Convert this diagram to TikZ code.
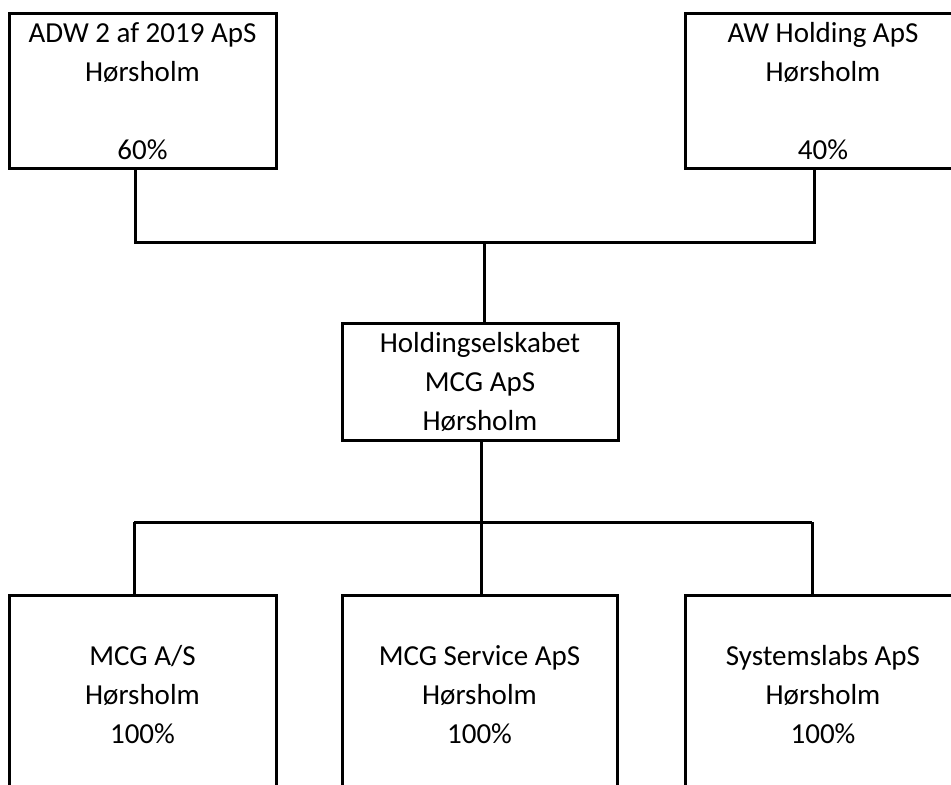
\documentclass[tikz,border=0pt]{standalone}
\usepackage{fontspec}
\setmainfont{Carlito}
\tikzstyle{every node}=[draw=black,line width=1.5pt,align=center,inner sep=0pt,font=\fontsize{14.5}{19.5}\selectfont]
\tikzstyle{owner}=[minimum width=133.5pt,minimum height=77.5pt]
\tikzstyle{holding}=[minimum width=138pt,minimum height=58pt]
\tikzstyle{company}=[minimum width=133.5pt,minimum height=100pt]
\tikzstyle{wide}=[minimum width=137.5pt]

\begin{document}
\begin{tikzpicture}[x=0.5pt,y=-0.5pt,line width=1.5pt]
	\useasboundingbox (0,0) rectangle (951,785);
	\clip (0,0) rectangle (951,785);
	% owners
	\draw (142.5,91.5) node (adw) [owner] {ADW 2 af 2019 ApS\\Hørsholm\\[19.5pt]60\%};
	\draw (823,91.5) node (aw) [owner,wide] {AW Holding ApS\\Hørsholm\\[19.5pt]40\%};
	% holding company
	\draw (480,382) node (mcg) [holding] {Holdingselskabet\\MCG ApS\\Hørsholm};
	% subsidiaries
	\draw (142.5,695) node (mcgas) [company] {MCG A/S\\Hørsholm\\100\%};
	\draw (479.5,695) node (service) [company,wide] {MCG Service ApS\\Hørsholm\\100\%};
	\draw (823,695) node (slabs) [company,wide] {Systemslabs ApS\\Hørsholm\\100\%};
	% junctions
	\coordinate (tl) at (135,243);
	\coordinate (tc) at (484,243);
	\coordinate (tr) at (814,243);
	\coordinate (bl) at (134,522);
	\coordinate (bc) at (481,522);
	\coordinate (br) at (812,522);
	\draw (adw.south -| tl) -- (tl) -- (tr) -- (aw.south -| tr);
	\draw (tc) -- (mcg.north -| tc);
	\draw (mcg.south -| bc) -- (bc);
	\draw (bl) -- (br);
	\draw (bl) -- (mcgas.north -| bl);
	\draw (bc) -- (service.north -| bc);
	\draw (br) -- (slabs.north -| br);
\end{tikzpicture}
\end{document}
